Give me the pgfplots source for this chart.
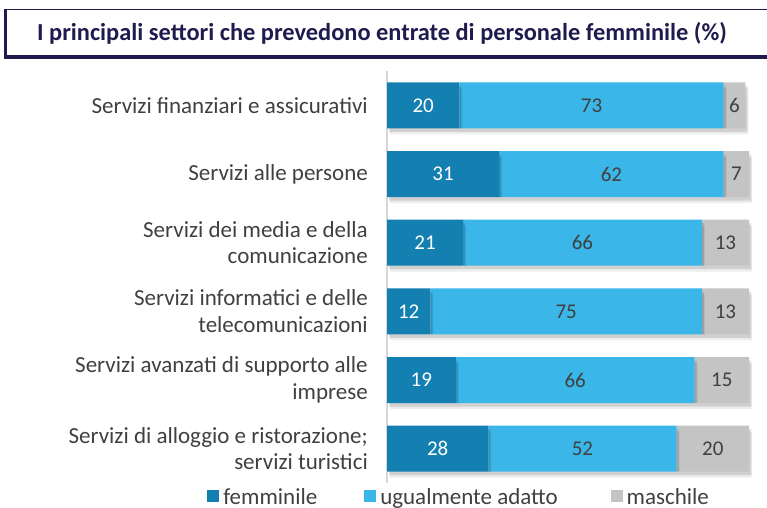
\documentclass[border=0pt]{standalone}
\usepackage{fontspec}
\setmainfont{Carlito}
\usepackage{pgfplots}
\pgfplotsset{compat=1.18}
\usetikzlibrary{shadows}
\definecolor{cfem}{RGB}{19,128,177}
\definecolor{cugu}{RGB}{59,182,233}
\definecolor{cmas}{RGB}{196,196,196}
\definecolor{navy}{RGB}{31,27,79}
\definecolor{txt}{RGB}{64,64,64}
\definecolor{axgray}{RGB}{215,215,215}
\tikzset{barshadow/.style={
  drop shadow={shadow xshift=3bp, shadow yshift=-6bp, opacity=0.07, fill=black},
  drop shadow={shadow xshift=2bp, shadow yshift=-3.5bp, opacity=0.12, fill=black}}}
\newcommand\legsq[1]{\pgfsetfillcolor{#1}\pgfpathrectangle{\pgfpoint{0bp}{-5bp}}{\pgfpoint{12bp}{12bp}}\pgfusepath{fill}}
\begin{document}
\begin{tikzpicture}
\path[use as bounding box] (0,0) rectangle (767bp,508bp);
% title box
\draw[navy, line width=1.5bp] (5.5bp,451bp) rectangle (790bp,498.5bp);
\draw[navy, line width=3bp] (5.5bp,449.5bp) -- (5.5bp,499.25bp);
\draw[navy, line width=3.5bp] (4bp,451bp) -- (790bp,451bp);
\node[font=\fontsize{24.4bp}{28bp}\selectfont\bfseries, text=navy] at (382bp,475bp)
  {I principali settori che prevedono entrate di personale femminile (\%)};
\begin{axis}[
  at={(387bp,25bp)}, anchor=south west,
  scale only axis, width=362bp, height=412bp,
  xbar stacked, bar width=46bp, clip=false,
  xmin=0, xmax=100, ymin=-0.5, ymax=5.5, y dir=reverse,
  axis x line=none, axis y line*=left,
  y axis line style={draw=axgray, line width=1.5bp, -},
  ytick={0,1,2,3,4,5},
  yticklabels={{Servizi finanziari e assicurativi},{Servizi alle persone},{Servizi dei media e della\\comunicazione},{Servizi informatici e delle\\telecomunicazioni},{Servizi avanzati di supporto alle\\imprese},{Servizi di alloggio e ristorazione;\\servizi turistici}},
  yticklabel style={align=right, font=\fontsize{23bp}{26.5bp}\selectfont, text=txt, inner xsep=0pt, xshift=-19bp},
  major tick length=0pt,
  point meta=explicit symbolic,
  nodes near coords={\pgfplotspointmeta},
  every node near coord/.append style={anchor=center, font=\fontsize{21bp}{25bp}\selectfont, text=txt},
  legend columns=3,
  legend style={at={(-0.497,-0.034)}, anchor=west, draw=none, fill=none, inner sep=0pt,
    font=\fontsize{23bp}{26bp}\selectfont, text=txt,
    /tikz/every odd column/.append style={column sep=2bp},
    /tikz/column 2/.style={column sep=45bp},
    /tikz/column 4/.style={column sep=51bp}},
  legend cell align=left,
]
\addplot[fill=cfem, draw=none, barshadow, every node near coord/.append style={text=white},
  legend image code/.code={\legsq{cfem}}] coordinates {
 (20,0) [20] (31,1) [31] (21,2) [21] (12,3) [12] (19,4) [19] (28,5) [28]};
\addplot[fill=cugu, draw=none, barshadow,
  legend image code/.code={\legsq{cugu}}] coordinates {
 (73,0) [73] (62,1) [62] (66,2) [66] (75,3) [75] (66,4) [66] (52,5) [52]};
\addplot[fill=cmas, draw=none, barshadow,
  legend image code/.code={\legsq{cmas}}] coordinates {
 (6,0) [6] (7,1) [7] (13,2) [13] (13,3) [13] (15,4) [15] (20,5) [20]};
\legend{femminile, ugualmente adatto, maschile}
\end{axis}
\end{tikzpicture}
\end{document}
